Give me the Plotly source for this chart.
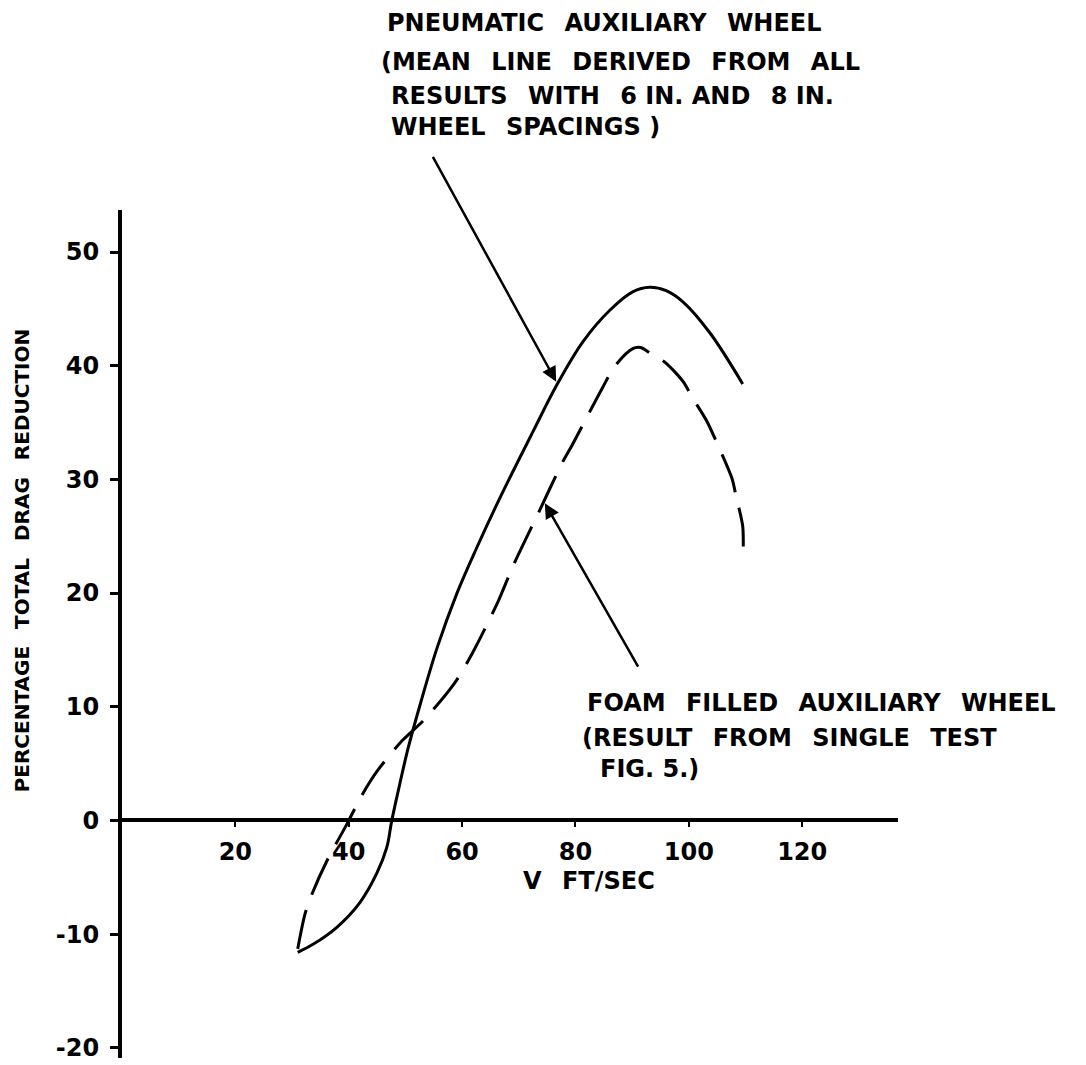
import plotly.graph_objects as go

# Pneumatic auxiliary wheel: mean line from 6 in. and 8 in. wheel spacings
pneu_v = [31.0, 33.7, 37.9, 42.0, 45.0, 46.7, 47.6, 49.0, 50.5, 52.6, 55.6, 59.1,
          62.5, 66.7, 72.5, 76.7, 81.3, 86.1, 90.1, 93.1, 96.0, 99.0, 103.7, 109.5]
pneu_pct = [-11.6, -10.9, -9.4, -7.2, -4.6, -2.4, 0.0, 3.2, 6.4, 10.2, 15.2, 20.0,
            23.9, 28.4, 34.2, 38.3, 42.1, 44.9, 46.5, 46.9, 46.6, 45.6, 42.9, 38.4]

# Foam filled auxiliary wheel: single test (Fig. 5)
foam_v = [31.0, 32.3, 33.5, 36.2, 39.7, 42.3, 45.1, 49.4, 53.4, 58.7, 61.9, 66.3,
          69.0, 73.7, 77.6, 79.4, 84.7, 87.0, 90.1, 91.5, 94.0, 95.8, 99.0, 100.5,
          103.2, 104.6, 107.6, 108.3, 109.5, 109.6]
foam_pct = [-11.3, -8.2, -6.5, -3.5, -0.3, 2.2, 4.4, 7.0, 8.9, 12.1, 14.8, 19.2,
            22.4, 27.3, 31.4, 33.0, 38.0, 40.0, 41.5, 41.6, 40.8, 40.3, 38.6, 37.3,
            35.1, 33.6, 30.1, 28.6, 25.9, 24.1]

x_ticks = [20, 40, 60, 80, 100, 120]
y_ticks = [-20, -10, 0, 10, 20, 30, 40, 50]
y_tick_text = ["-20", "-10", "0", "10", "20", "30", "40", "50"]

pneu_label = ["PNEUMATIC  AUXILIARY  WHEEL",
              "(MEAN  LINE  DERIVED  FROM  ALL",
              "RESULTS  WITH  6 IN. AND  8 IN.",
              "WHEEL  SPACINGS )"]
foam_label = ["FOAM  FILLED  AUXILIARY  WHEEL",
              "(RESULT  FROM  SINGLE  TEST",
              "FIG. 5.)"]
y_title = "PERCENTAGE  TOTAL  DRAG  REDUCTION"
x_title = "V  FT/SEC"

INK = "black"
FONT = "DejaVu Sans"
X_RANGE = [0, 136.9]
Y_RANGE = [-20.9, 53.7]

# plot area in page pixels
L, R, T, B = 122, 898, 210, 1062
W, H = 1086, 1065


def paper(px, py):
    return (px - L) / (R - L), (B - py) / (B - T)


def wide(s):
    # wider word gaps, as in hand lettering
    return s.replace("  ", "\u2002\u00a0")


fig = go.Figure()
fig.add_trace(go.Scatter(x=pneu_v, y=pneu_pct, mode="lines",
                         line=dict(color=INK, width=3, shape="spline", smoothing=1.0),
                         cliponaxis=False, showlegend=False))
fig.add_trace(go.Scatter(x=foam_v, y=foam_pct, mode="lines",
                         line=dict(color=INK, width=3, shape="spline", smoothing=0.8,
                                   dash="40px,16px"),
                         cliponaxis=False, showlegend=False))

ann = []
# leader arrows
ann.append(dict(x=76.6, y=38.6, ax=54.7, ay=58.5, xref="x", yref="y",
                axref="x", ayref="y", text="", showarrow=True,
                arrowhead=2, arrowsize=1.2, arrowwidth=2.5, arrowcolor=INK))
ann.append(dict(x=74.6, y=27.9, ax=91.2, ay=13.4, xref="x", yref="y",
                axref="x", ayref="y", text="", showarrow=True,
                arrowhead=2, arrowsize=1.2, arrowwidth=2.5, arrowcolor=INK))


def text_at(t, px, py, size=24, anchor="left", angle=0):
    xp, yp = paper(px, py)
    ann.append(dict(x=xp, y=yp, xref="paper", yref="paper", text=wide(t),
                    showarrow=False, xanchor=anchor, yanchor="middle", textangle=angle,
                    font=dict(family=FONT, size=size, color=INK, weight="bold")))


for t, px, py in zip(pneu_label, [385, 379, 389, 389], [22, 61, 95, 127]):
    text_at(t, px, py)
for t, px, py in zip(foam_label, [585, 580, 598], [705, 740, 772]):
    text_at(t, px, py)
text_at(y_title, 22, 562, size=20, anchor="center", angle=-90)
text_at(x_title, 589, 884, anchor="center")

tick_font = dict(family=FONT, size=24, color=INK, weight="bold")
fig.update_layout(
    width=W, height=H,
    margin=dict(l=L, r=W - R, t=T, b=H - B),
    paper_bgcolor="white", plot_bgcolor="white",
    annotations=ann,
    xaxis=dict(range=X_RANGE, anchor="free",
               position=(0 - Y_RANGE[0]) / (Y_RANGE[1] - Y_RANGE[0]),
               showgrid=False, zeroline=False, showline=True, linecolor=INK, linewidth=4,
               ticks="outside", ticklen=5, tickwidth=2, tickcolor=INK,
               tickvals=x_ticks, ticklabelstandoff=4, tickfont=tick_font),
    yaxis=dict(range=Y_RANGE, showgrid=False, zeroline=False, showline=True,
               linecolor=INK, linewidth=4, ticks="outside", ticklen=8, tickwidth=3,
               tickcolor=INK, tickvals=y_ticks, ticktext=y_tick_text,
               ticklabelstandoff=6, ticklabeloverflow="allow", tickfont=tick_font),
)

fig.write_html("out.html")
